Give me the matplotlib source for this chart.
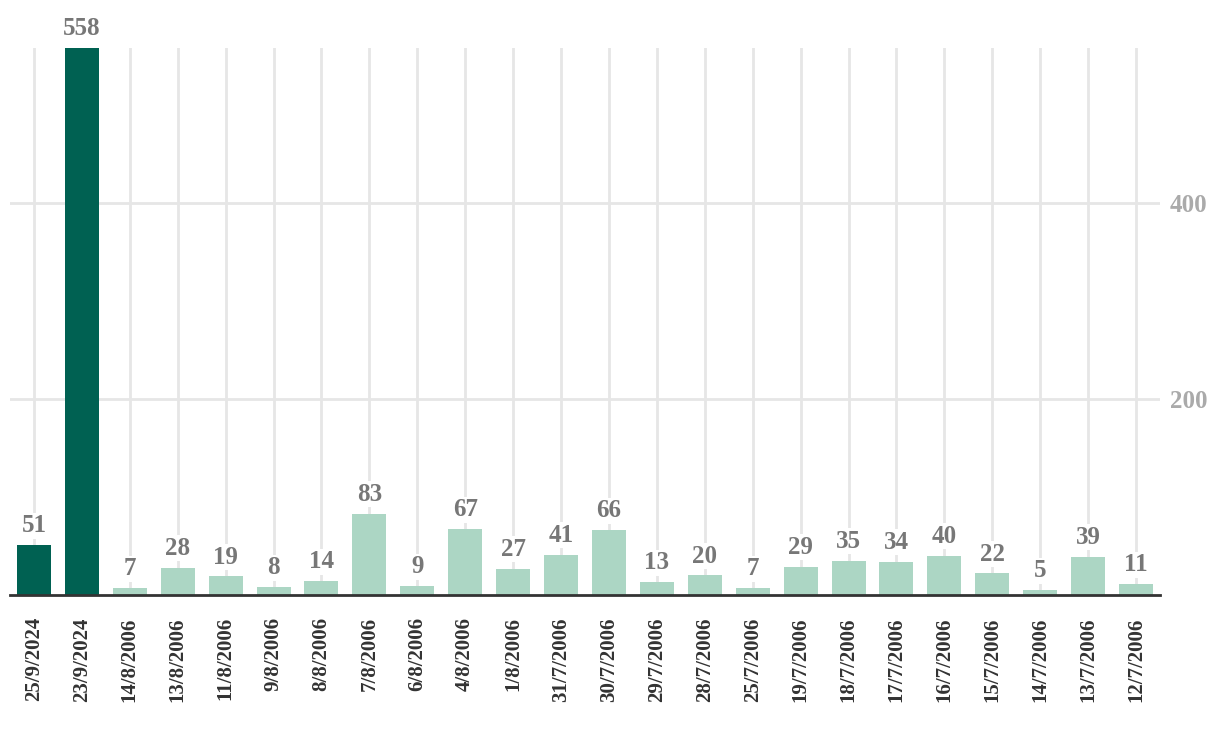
import matplotlib
matplotlib.use("Agg")
import matplotlib.pyplot as plt

dates = ["25/9/2024", "23/9/2024", "14/8/2006", "13/8/2006", "11/8/2006", "9/8/2006",
         "8/8/2006", "7/8/2006", "6/8/2006", "4/8/2006", "1/8/2006", "31/7/2006",
         "30/7/2006", "29/7/2006", "28/7/2006", "25/7/2006", "19/7/2006", "18/7/2006",
         "17/7/2006", "16/7/2006", "15/7/2006", "14/7/2006", "13/7/2006", "12/7/2006"]
values = [51, 558, 7, 28, 19, 8, 14, 83, 9, 67, 27, 41, 66, 13, 20, 7, 29, 35, 34, 40, 22, 5, 39, 11]
highlight = [True, True] + [False] * 22
yticks = [200, 400]

dark = "#006152"
light = "#acd6c4"

plt.rcParams['font.family'] = ['Liberation Serif', 'DejaVu Serif']
fig = plt.figure(figsize=(12.2, 7.42), dpi=100)
ax = fig.add_axes([10/1220, 1 - 595/742, 1150/1220, (595-48)/742])

x = list(range(len(dates)))
colors = [dark if h else light for h in highlight]
ax.bar(x, values, width=0.71, color=colors, zorder=2)
for xi, v in zip(x, values):
    ax.text(xi, v + 8, str(v), ha='center', va='bottom', fontsize=18,
            fontweight='bold', color='#777777', zorder=3,
            bbox=dict(facecolor='white', edgecolor='none', pad=1))

ax.set_xlim(-0.5, len(dates) - 0.5)
ax.set_ylim(0, 558)
ax.set_xticks(x)
ax.set_xticklabels(dates, rotation=90, fontsize=15, fontweight='bold', color='#333333')
ax.set_yticks(yticks)
ax.set_yticklabels([str(t) for t in yticks], fontsize=18, fontweight='bold', color='#aaaaaa')
ax.yaxis.tick_right()
ax.tick_params(axis='y', length=0, pad=7)
ax.tick_params(axis='x', length=0, pad=16)
ax.grid(True, color='#e6e6e6', linewidth=2, zorder=0)
ax.set_axisbelow(True)
for s in ['top', 'right', 'left']:
    ax.spines[s].set_visible(False)
ax.spines['bottom'].set_color('#333333')
ax.spines['bottom'].set_linewidth(2)
ax.spines['bottom'].set_zorder(4)

fig.savefig("out.png", dpi=100)
